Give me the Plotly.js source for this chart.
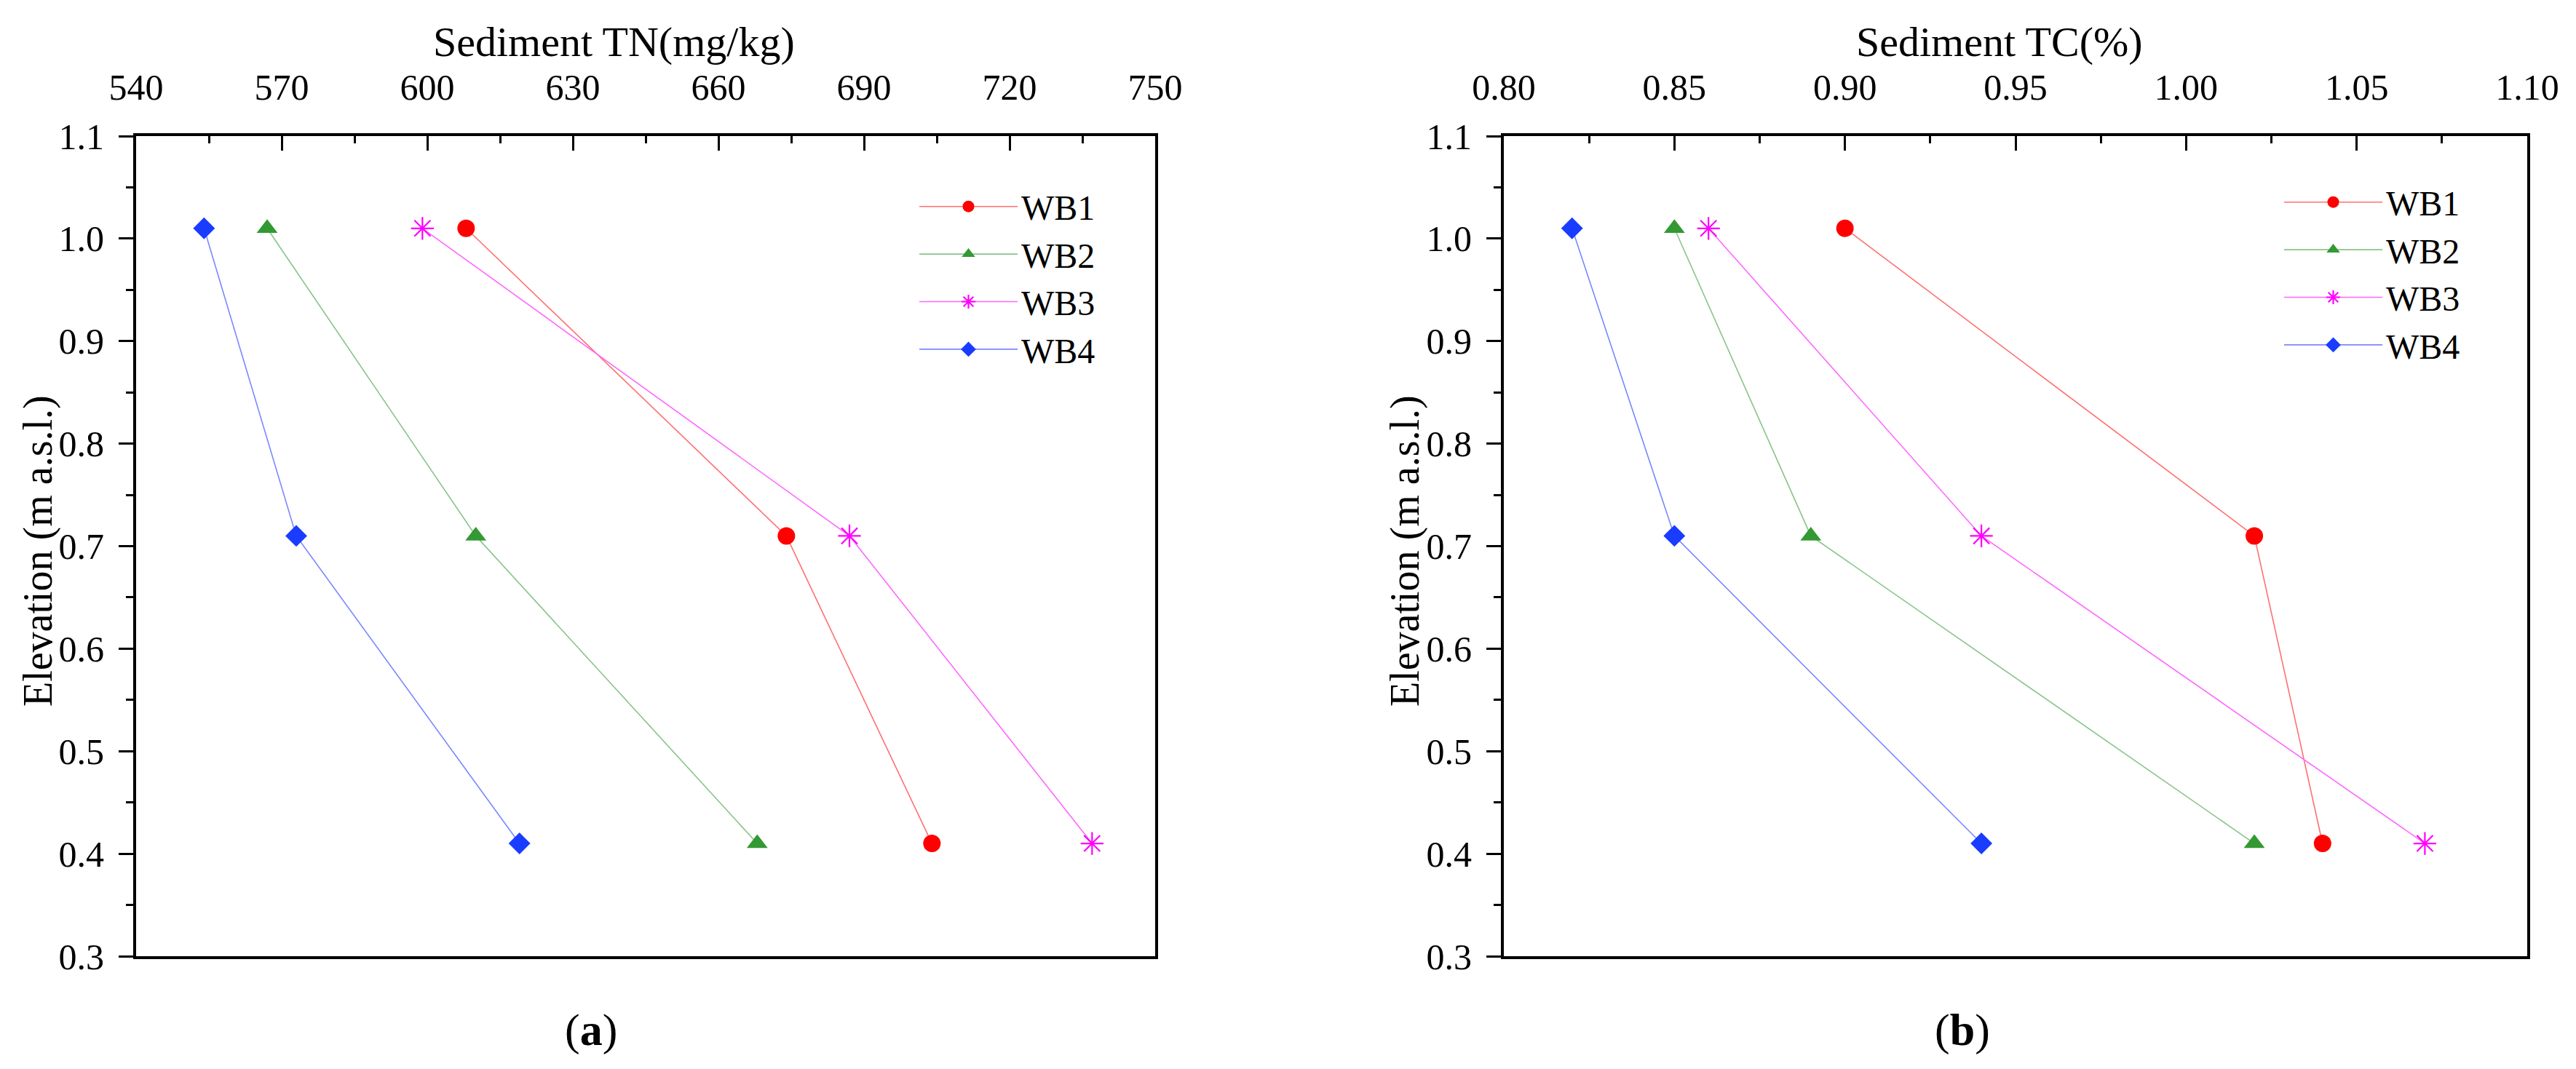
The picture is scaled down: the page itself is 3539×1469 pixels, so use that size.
<!DOCTYPE html>
<html>
<head>
<meta charset="utf-8">
<script src="https://cdn.plot.ly/plotly-3.0.1.min.js"></script>
<style>html,body{margin:0;padding:0;background:#fff;}#chart{width:3539px;height:1469px;}</style>
</head>
<body>
<div id="chart"></div>
<script>
// ---- data ----
const seriesNames = ['WB1', 'WB2', 'WB3', 'WB4'];
const elevation = [1.01, 0.71, 0.41];
// Panel (a): Sediment TN (mg/kg)
const tnWB1 = [608, 674, 704];
const tnWB2 = [567, 610, 668];
const tnWB3 = [599, 687, 737];
const tnWB4 = [554, 573, 619];
// Panel (b): Sediment TC (%)
const tcWB1 = [0.90, 1.02, 1.04];
const tcWB2 = [0.85, 0.89, 1.02];
const tcWB3 = [0.86, 0.94, 1.07];
const tcWB4 = [0.82, 0.85, 0.94];
const yTickVals = [0.3, 0.4, 0.5, 0.6, 0.7, 0.8, 0.9, 1.0, 1.1];
const tnTickVals = [540, 570, 600, 630, 660, 690, 720, 750];
const tcTickVals = [0.80, 0.85, 0.90, 0.95, 1.00, 1.05, 1.10];
const xTitles = ['Sediment TN(mg/kg)', 'Sediment TC(%)'];
const yTitle = 'Elevation (m a.s.l.)';
const panelLabels = ['a', 'b'];

// ---- styles ----
const FONT = 'Liberation Serif, Times New Roman, serif';
const symbols = ['circle', 'triangle-up', 'asterisk-open', 'diamond'];
const markerColors = ['#FF0000', '#339933', '#FF00FF', '#1A3CFF'];
const lineColors = ['#FF7070', '#88C488', '#FF66FF', '#7A88FF'];
const markerSizes = [24, 25, 26, 23];

const tnSeries = [tnWB1, tnWB2, tnWB3, tnWB4];
const tcSeries = [tcWB1, tcWB2, tcWB3, tcWB4];

const traces = [];
function addTraces(seriesList, xa, ya, legendId) {
  seriesList.forEach((vals, i) => {
    const isOpen = symbols[i] === 'asterisk-open';
    traces.push({
      type: 'scatter', mode: 'lines+markers',
      x: vals, y: elevation, name: seriesNames[i],
      xaxis: xa, yaxis: ya, legend: legendId,
      line: {color: lineColors[i], width: 1.6},
      marker: {
        symbol: symbols[i], size: markerSizes[i], color: markerColors[i],
        line: {color: markerColors[i], width: isOpen ? 2.2 : 0}
      },
      cliponaxis: false
    });
  });
}
addTraces(tnSeries, 'x', 'y', 'legend');
addTraces(tcSeries, 'x2', 'y2', 'legend2');

const W = 3539, H = 1469;
const yDom = [1 - 1314 / H, 1 - 187 / H];

function xAxis(domain, range, tickvals, fmt, minorDtick, anchor) {
  return {
    domain: domain, range: range, anchor: anchor, side: 'top',
    tickmode: 'array', tickvals: tickvals, tickformat: fmt,
    ticks: 'inside', ticklen: 20, tickwidth: 3, tickcolor: '#000',
    minor: {ticks: 'inside', ticklen: 10, tickwidth: 3, tickcolor: '#000', dtick: minorDtick, showgrid: false},
    showline: true, linecolor: '#000', linewidth: 4, mirror: true,
    showgrid: false, zeroline: false,
    ticklabelstandoff: 26,
    tickfont: {family: FONT, size: 50, color: '#000'}
  };
}
function yAxis(anchor) {
  return {
    domain: yDom, range: [0.3, 1.1], anchor: anchor,
    tickmode: 'array', tickvals: yTickVals, tickformat: '.1f',
    ticks: 'outside', ticklen: 20, tickwidth: 3, tickcolor: '#000',
    minor: {ticks: 'outside', ticklen: 10, tickwidth: 3, tickcolor: '#000', dtick: 0.05, showgrid: false},
    showline: true, linecolor: '#000', linewidth: 4, mirror: true,
    showgrid: false, zeroline: false,
    ticklabelstandoff: 10,
    tickfont: {family: FONT, size: 50, color: '#000'}
  };
}

const legendStyle = (x, y) => ({
  x: x, y: y, xanchor: 'left', yanchor: 'top',
  bgcolor: 'rgba(0,0,0,0)', borderwidth: 0,
  font: {family: FONT, size: 48, color: '#000'},
  itemwidth: 135, tracegroupgap: 0
});

function textAnn(text, px, py, size, angle) {
  return {xref: 'paper', yref: 'paper', x: px / W, y: 1 - py / H, text: text, textangle: angle || 0,
    showarrow: false, font: {family: FONT, size: size, color: '#000'}, xanchor: 'center', yanchor: 'middle'};
}

const layout = {
  width: W, height: H,
  margin: {l: 0, r: 0, t: 0, b: 0},
  paper_bgcolor: '#fff', plot_bgcolor: '#fff',
  showlegend: true,
  xaxis: xAxis([187 / W, 1587 / W], [540, 750], tnTickVals, 'd', 15, 'y'),
  yaxis: yAxis('x'),
  xaxis2: xAxis([2066 / W, 3472 / W], [0.80, 1.10], tcTickVals, '.2f', 0.025, 'y2'),
  yaxis2: yAxis('x2'),
  legend: legendStyle(1258 / W, 1 - 246 / H),
  legend2: legendStyle(3133 / W, 1 - 240 / H),
  annotations: [
    textAnn(xTitles[0], 843, 58, 58),
    textAnn(xTitles[1], 2747, 58, 58),
    textAnn(yTitle, 52, 757, 56, -90),
    textAnn(yTitle, 1930, 757, 56, -90),
    textAnn('(<b>' + panelLabels[0] + '</b>)', 812, 1415, 62),
    textAnn('(<b>' + panelLabels[1] + '</b>)', 2696, 1415, 62)
  ]
};

Plotly.newPlot('chart', traces, layout, {staticPlot: true, displayModeBar: false});
</script>
</body>
</html>
